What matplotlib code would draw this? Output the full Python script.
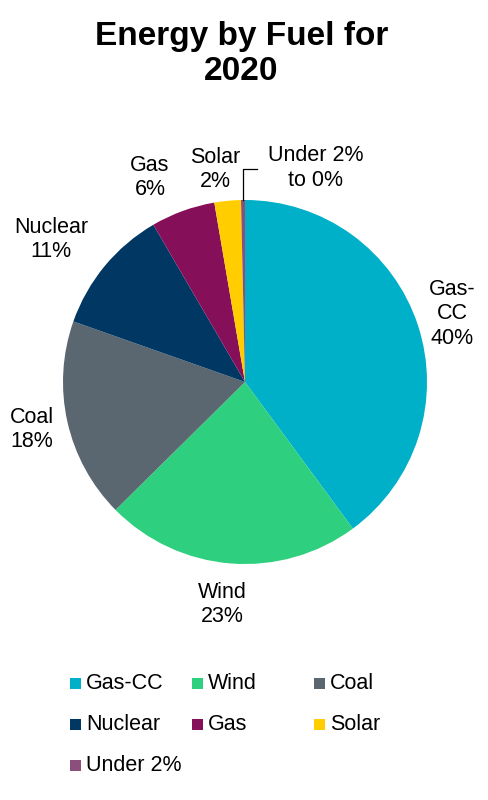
import numpy as np
import matplotlib
matplotlib.use("Agg")
import matplotlib.pyplot as plt
from matplotlib.patches import Rectangle

plt.rcParams['font.family'] = ['Liberation Sans', 'DejaVu Sans']

fuels = ['Gas-CC', 'Wind', 'Coal', 'Nuclear', 'Gas', 'Solar', 'Under 2%']
shares = [39.9, 22.7, 17.8, 11.2, 5.7, 2.35, 0.35]
pct_labels = ['40%', '23%', '18%', '11%', '6%', '2%', '0%']
slice_names = ['Gas-\nCC', 'Wind', 'Coal', 'Nuclear', 'Gas', 'Solar', 'Under 2%\nto']
colors = ['#00AFC8', '#2ECF7E', '#5B6770', '#003763', '#860F5A', '#FFCD00', '#8B4F7E']

W, H = 488, 800
cx, cy, R = 245, 382, 182

fig = plt.figure(figsize=(W / 100, H / 100), dpi=100)
ax = fig.add_axes([0, 0, 1, 1])

wedges, _ = ax.pie(shares, colors=colors, startangle=90, counterclock=False,
                   radius=1, wedgeprops=dict(linewidth=0))

# pie() resets the limits, so set them afterwards
ax.set_xlim(-cx / R, (W - cx) / R)
ax.set_ylim(-(H - cy) / R, cy / R)
ax.set_aspect('equal')
ax.axis('off')

# label distance (in radii) and angle nudge (deg) per slice
dist = [1.2, 1.23, 1.2, 1.32, 1.24, 1.18]
nudge = [0, -1.4, 0, 3.3, 4.9, 2.5]
for w, name, pct, d, a in zip(wedges[:-1], slice_names, pct_labels, dist, nudge):
    mid = np.deg2rad((w.theta1 + w.theta2) / 2 + a)
    ax.text(d * np.cos(mid), d * np.sin(mid), name + '\n' + pct,
            ha='center', va='center', fontsize=15.5, color='black')

# tiny slice with leader line
w = wedges[-1]
mid = np.deg2rad((w.theta1 + w.theta2) / 2)
x0, y0 = np.cos(mid), np.sin(mid)
ax.plot([x0, x0, 0.066], [y0, 1.17, 1.17], color='black', lw=0.9)
ax.text(0.39, 1.176, slice_names[-1] + ' ' + pct_labels[-1],
        ha='center', va='center', fontsize=15.5)

fig.text(0.495, 1 - 54 / H, 'Energy by Fuel for\n2020', ha='center', va='center',
         fontsize=24, fontweight='bold')

# legend laid out on a 3-column grid
for i, (name, c) in enumerate(zip(fuels, colors)):
    r, col = divmod(i, 3)
    x = 70 + 122 * col
    y = 683.5 + 41 * r
    fig.add_artist(Rectangle((x / W, 1 - (y + 5.5) / H), 11 / W, 11 / H,
                             transform=fig.transFigure, color=c, lw=0))
    fig.text((x + 16) / W, 1 - y / H, name, ha='left', va='center', fontsize=15.5)

fig.savefig('out.png', dpi=100)
